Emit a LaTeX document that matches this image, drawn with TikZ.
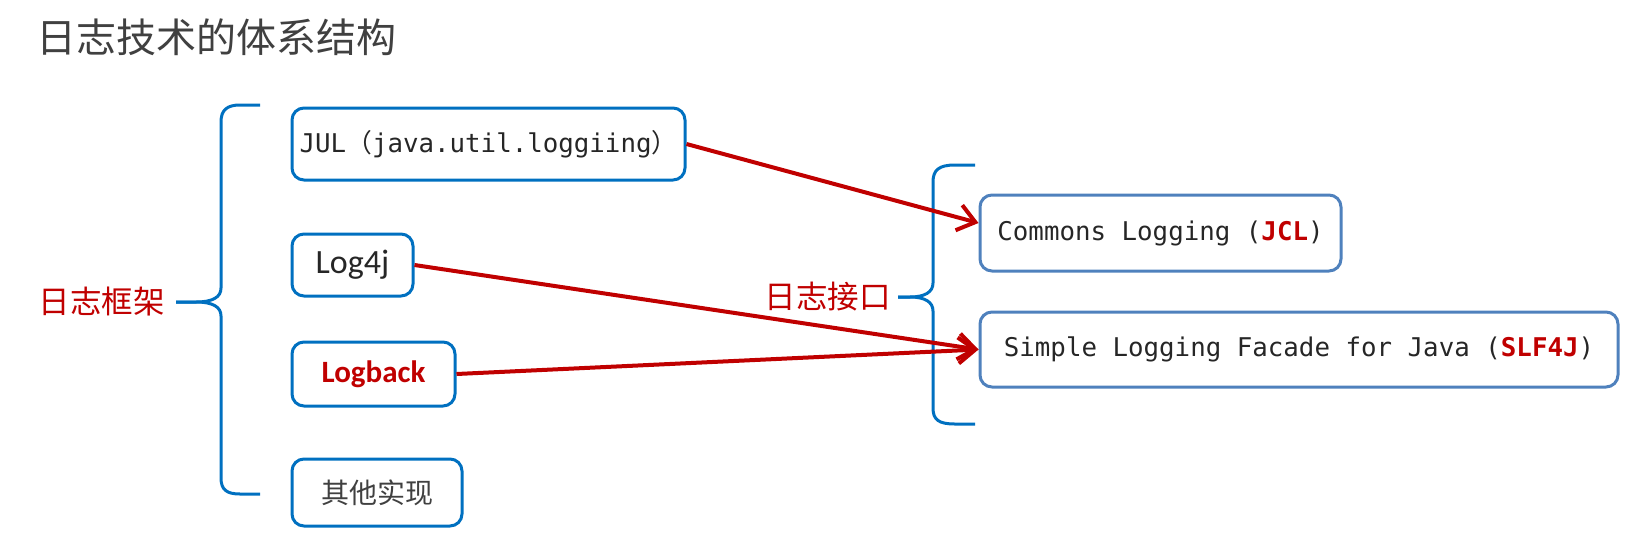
\documentclass[tikz,border=0pt]{standalone}
\usepackage{fontspec}
\setmainfont{Carlito}
\setmonofont{DejaVu Sans Mono}
\newfontfamily\cjk{Noto Sans CJK SC}
\usepackage{tikz}
\usetikzlibrary{arrows.meta}
\usepackage{xcolor}
\definecolor{boxblue}{HTML}{0070C0}
\definecolor{softblue}{HTML}{4F81BD}
\definecolor{darkred}{HTML}{C00000}
\definecolor{inkgray}{HTML}{404040}

\begin{document}
\begin{tikzpicture}[x=1pt, y=-1pt,
    implBox/.style={rectangle, rounded corners=12pt, draw=boxblue, line width=3pt, inner sep=0pt},
    apiBox/.style={rectangle, rounded corners=12pt, draw=softblue, line width=3pt, inner sep=0pt, font=\ttfamily\fontsize{25.8}{30}\selectfont, text=black!85},
    braceLine/.style={draw=boxblue, line width=3pt},
    groupLabel/.style={font=\cjk\fontsize{31.5}{36}\selectfont, text=darkred, inner sep=0pt, anchor=east},
    arrowStyle/.style={-{Straight Barb[length=17pt,width=26pt,line width=4pt]}, line width=4pt, draw=darkred}
]
    \useasboundingbox (0,0) rectangle (1647,542);

    \node[anchor=west, font=\cjk\fontsize{40}{44}\selectfont, text=inkgray, inner sep=0pt] (title) at (36,37) {日志技术的体系结构};

    % Linke Gruppe: Implementierungen
    \node[groupLabel] (frameLabel) at (165,302) {日志框架};
    \draw[braceLine] (260,105) -- (240,105) .. controls (227,105) and (221,110) .. (221,122) -- (221,288) .. controls (221,297) and (213,302) .. (196,302) -- (176,302);
    \draw[braceLine] (176,302) -- (196,302) .. controls (213,302) and (221,307) .. (221,316) -- (221,478) .. controls (221,490) and (227,494) .. (240,494) -- (260,494);

    \node[implBox, minimum width=393pt, minimum height=72pt, font=\ttfamily\fontsize{25.8}{30}\selectfont, text=black!85] (jul) at (488.5,144) {JUL{\cjk（}java.util.loggiing{\cjk）}};
    \node[implBox, minimum width=121pt, minimum height=62pt, font=\fontsize{34}{40}\selectfont, text=black!85] (logFourJ) at (352.5,265) {Log4j};
    \node[implBox, minimum width=163pt, minimum height=64pt, font=\bfseries\fontsize{31}{36}\selectfont, text=darkred] (logback) at (373.5,374) {Logback};
    \node[implBox, minimum width=170pt, minimum height=67pt, font=\cjk\fontsize{28}{34}\selectfont, text=inkgray] (otherImpl) at (377,492.5) {其他实现};

    % Rechte Gruppe: Schnittstellen
    \node[groupLabel] (apiLabel) at (891,297) {日志接口};
    \draw[braceLine] (975,165) -- (955,165) .. controls (939,165) and (933,170) .. (933,182) -- (933,283) .. controls (933,292) and (925,297) .. (910,297) -- (898,297);
    \draw[braceLine] (898,297) -- (910,297) .. controls (925,297) and (933,302) .. (933,311) -- (933,408) .. controls (933,420) and (939,424) .. (955,424) -- (975,424);

    \node[apiBox, minimum width=361pt, minimum height=76pt] (jcl) at (1160.5,233) {Commons Logging ({\bfseries\color{darkred}JCL})};
    \node[apiBox, minimum width=638pt, minimum height=75pt] (slf) at (1299,349.5) {Simple Logging Facade for Java ({\bfseries\color{darkred}SLF4J})};

    \draw[arrowStyle] (jul.east) -- ([yshift=10pt]jcl.west);
    \draw[arrowStyle] (logFourJ.east) -- (slf.west);
    \draw[arrowStyle] (logback.east) -- (slf.west);
\end{tikzpicture}
\end{document}
